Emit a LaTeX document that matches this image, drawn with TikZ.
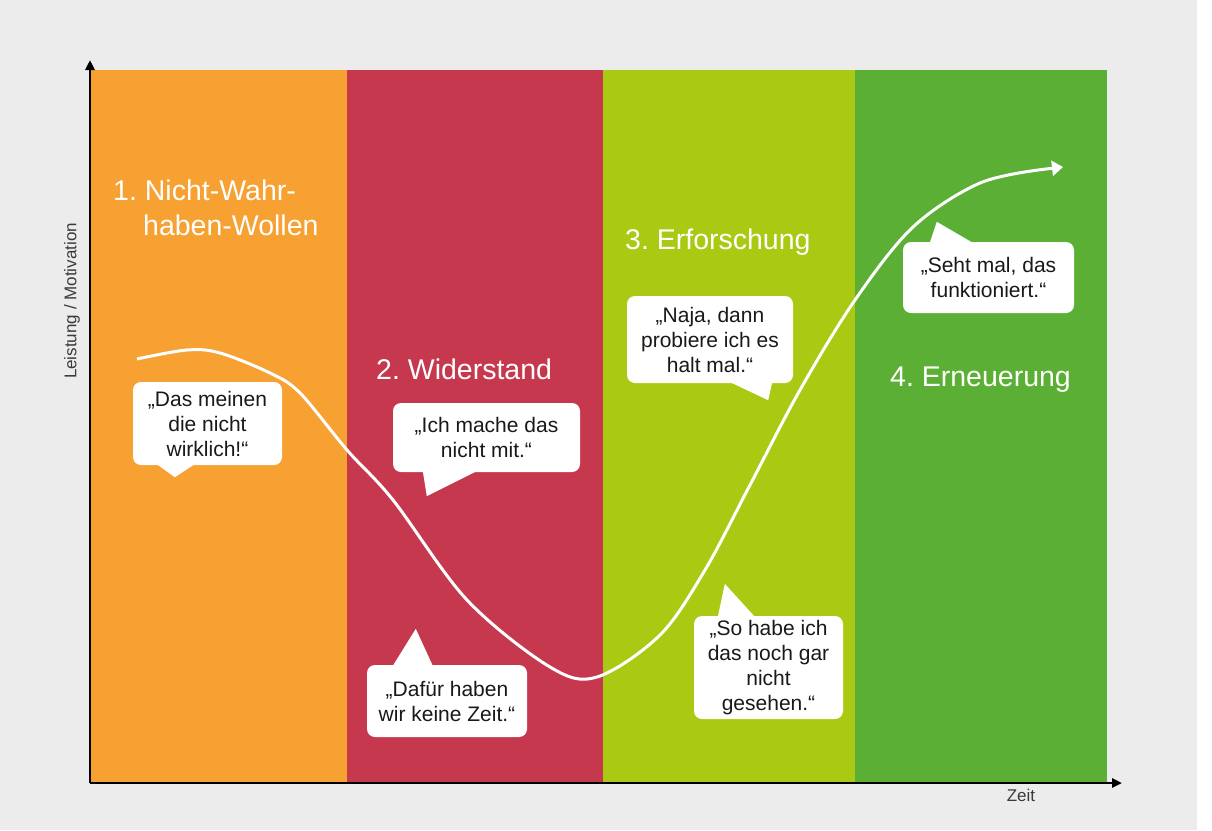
\documentclass[tikz,border=0pt]{standalone}
\usepackage{fontspec}
\setmainfont{Liberation Sans}
\usepackage{xcolor}
\usepackage{tikz}
\usetikzlibrary{arrows.meta,calc}
\definecolor{phaseA}{HTML}{F6A132}
\definecolor{phaseB}{HTML}{C5384E}
\definecolor{phaseC}{HTML}{A9C913}
\definecolor{phaseD}{HTML}{5BAF34}
\definecolor{canvas}{HTML}{ECECEC}
\definecolor{labelgray}{HTML}{3A3A3A}
\frenchspacing

\begin{document}
\begin{tikzpicture}[x=1pt, y=-1pt,
    phasehead/.style={text=white, font=\fontsize{28.5}{35}\selectfont, inner sep=0pt},
    bubble/.style={fill=white, rounded corners=8pt, align=center, inner sep=0pt, text=black!90, font=\fontsize{21}{25}\selectfont},
    axis/.style={line width=2.5pt, -{Triangle[length=10pt,width=9pt]}},
    axislabel/.style={text=labelgray, font=\fontsize{17}{20}\selectfont, inner sep=0pt}]
    \useasboundingbox (0,0) rectangle (1212,830);
    \fill[canvas] (0,0) rectangle (1197,830);
    \fill[white] (1197,0) rectangle (1212,830);

    % Phase columns
    \foreach \a/\b/\c in {90/347/phaseA, 347/603/phaseB, 603/855/phaseC, 855/1107/phaseD}
      \fill[\c] (\a,70) rectangle (\b,783);

    % Phase titles
    \node[phasehead, anchor=base west] (h1) at (113,200) {1. Nicht-Wahr-};
    \node[phasehead, anchor=base west] (h1b) at (143,235) {haben-Wollen};
    \node[phasehead, anchor=base west] (h2) at (376,379) {2. Widerstand};
    \node[phasehead, anchor=base west] (h3) at (625,249) {3. Erforschung};
    \node[phasehead, anchor=base west] (h4) at (890,386) {4. Erneuerung};

    % Axes
    \coordinate (o) at (90,783);
    \coordinate (ytop) at (90,60);
    \coordinate (xend) at (1122,783);
    \draw[axis] (o) -- (ytop);
    \draw[axis] (o) -- (xend);
    \node[axislabel, rotate=90] (ylab) at (72,301) {Leistung / Motivation};
    \node[axislabel] (xlab) at (1021,795) {Zeit};

    % Change curve
    \draw[white, line width=3pt, -{Triangle[length=11pt,width=15pt]}]
      plot[smooth, tension=0.55] coordinates {(137,359) (187,350) (220,353) (270,373) (300,393)
        (347,450) (393,500) (467,600) (550,667) (597,677) (660,635) (705,570) (750,485)
        (800,390) (855,300) (913,227) (980,183) (1046,169)} -- (1063,167);

    % Speech bubbles
    \node[bubble, minimum width=149pt, minimum height=83pt] (b1) at (207.5,423.5) {„Das meinen\\die nicht\\wirklich!“};
    \node[bubble, minimum width=187pt, minimum height=69pt] (b2) at (486.5,437.5) {„Ich mache das\\nicht mit.“};
    \node[bubble, minimum width=160pt, minimum height=72pt] (b3) at (447,701) {„Dafür haben\\wir keine Zeit.“};
    \node[bubble, minimum width=166pt, minimum height=87pt] (b4) at (710,339.5) {„Naja, dann\\probiere ich es\\halt mal.“};
    \node[bubble, minimum width=149pt, minimum height=103pt] (b5) at (768.5,667.5) {„So habe ich\\das noch gar\\nicht\\gesehen.“};
    \node[bubble, minimum width=171pt, minimum height=71pt] (b6) at (988.5,277.5) {„Seht mal, das\\funktioniert.“};

    % Bubble tails
    \fill[white] ($(b1.south west)+(24,-1)$) -- ($(b1.south west)+(42,12)$) -- ($(b1.south west)+(62,-1)$) -- cycle;
    \fill[white] ($(b2.south west)+(30,-1)$) -- ($(b2.south west)+(34,24)$) -- ($(b2.south west)+(84,-1)$) -- cycle;
    \fill[white] ($(b3.north west)+(26,1)$) -- ($(b3.north west)+(49,-36)$) -- ($(b3.north west)+(66,1)$) -- cycle;
    \fill[white] ($(b4.south east)+(-63,-1)$) -- ($(b4.south east)+(-25,17)$) -- ($(b4.south east)+(-21,-1)$) -- cycle;
    \fill[white] ($(b5.north west)+(24,1)$) -- ($(b5.north west)+(31,-32)$) -- ($(b5.north west)+(61,1)$) -- cycle;
    \fill[white] ($(b6.north west)+(27,1)$) -- ($(b6.north west)+(34,-20)$) -- ($(b6.north west)+(70,1)$) -- cycle;
  \end{tikzpicture}
\end{document}
